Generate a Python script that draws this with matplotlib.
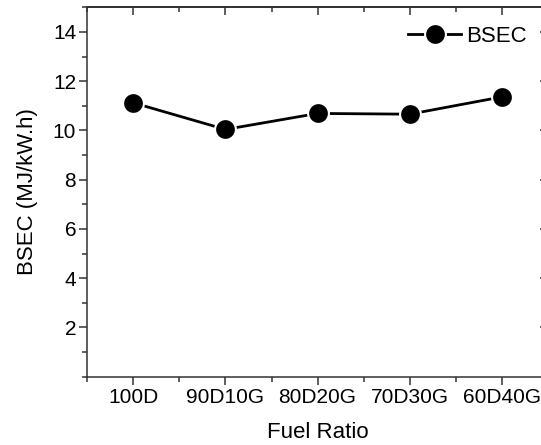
import numpy as np
import matplotlib
matplotlib.use("Agg")
import matplotlib.pyplot as plt
from matplotlib.ticker import MultipleLocator

# data
fuel_ratio = ["100D", "90D10G", "80D20G", "70D30G", "60D40G"]
bsec = [11.12, 10.04, 10.69, 10.66, 11.36]

plt.rcParams['font.family'] = ['Liberation Sans', 'DejaVu Sans']

W, H = 541, 445
fig = plt.figure(figsize=(W / 100, H / 100), dpi=100)
# axes box in pixels: left 87, right ~548 (cropped), top 7, bottom 377
ax = fig.add_axes([87.3 / W, 1 - 376.7 / H, (547.8 - 87.3) / W, (376.7 - 7.3) / H])

x = np.arange(len(fuel_ratio))
ax.plot(x, bsec, color='black', lw=2.0, marker='o', ms=15,
        mfc='black', mec='white', mew=1.5, label='BSEC')

ax.set_xlim(-0.5, 4.5)
ax.set_ylim(0, 15)
ax.set_xticks(x)
ax.set_xticklabels(fuel_ratio)
ax.xaxis.set_minor_locator(MultipleLocator(0.5))
ax.set_yticks([2, 4, 6, 8, 10, 12, 14])
ax.yaxis.set_minor_locator(MultipleLocator(1))

for s in ax.spines.values():
    s.set_linewidth(1.1)
    s.set_color('#333333')

ax.tick_params(which='both', color='#333333', width=1.1, labelsize=15, pad=2)
ax.tick_params(which='major', length=6)
ax.tick_params(which='minor', length=3.5)
ax.tick_params(axis='x', which='both', direction='out', top=False)
ax.tick_params(axis='y', which='both', direction='out', right=False)

# inward ticks on the top and right spines, no labels
top = ax.secondary_xaxis('top')
top.set_xticks(x)
top.xaxis.set_minor_locator(MultipleLocator(0.5))
top.tick_params(which='both', direction='in', labeltop=False, color='#333333', width=1.1)
top.tick_params(which='major', length=6)
top.tick_params(which='minor', length=3.5)
top.spines['top'].set_linewidth(1.1)
right = ax.secondary_yaxis('right')
right.set_yticks([2, 4, 6, 8, 10, 12, 14])
right.yaxis.set_minor_locator(MultipleLocator(1))
right.tick_params(which='both', direction='in', labelright=False, color='#333333', width=1.1)
right.tick_params(which='major', length=6)
right.tick_params(which='minor', length=3.5)

ax.set_xlabel('Fuel Ratio', fontsize=16, labelpad=11)
ax.set_ylabel('BSEC (MJ/kW.h)', fontsize=16, labelpad=11)

ax.legend(loc='center left', bbox_to_anchor=(408 / W, 1 - 36.7 / H),
          bbox_transform=fig.transFigure, frameon=False, fontsize=16,
          borderpad=0, borderaxespad=0, handlelength=2.4, handletextpad=0.2,
          markerscale=1.0)

fig.savefig('out.png', dpi=100)
